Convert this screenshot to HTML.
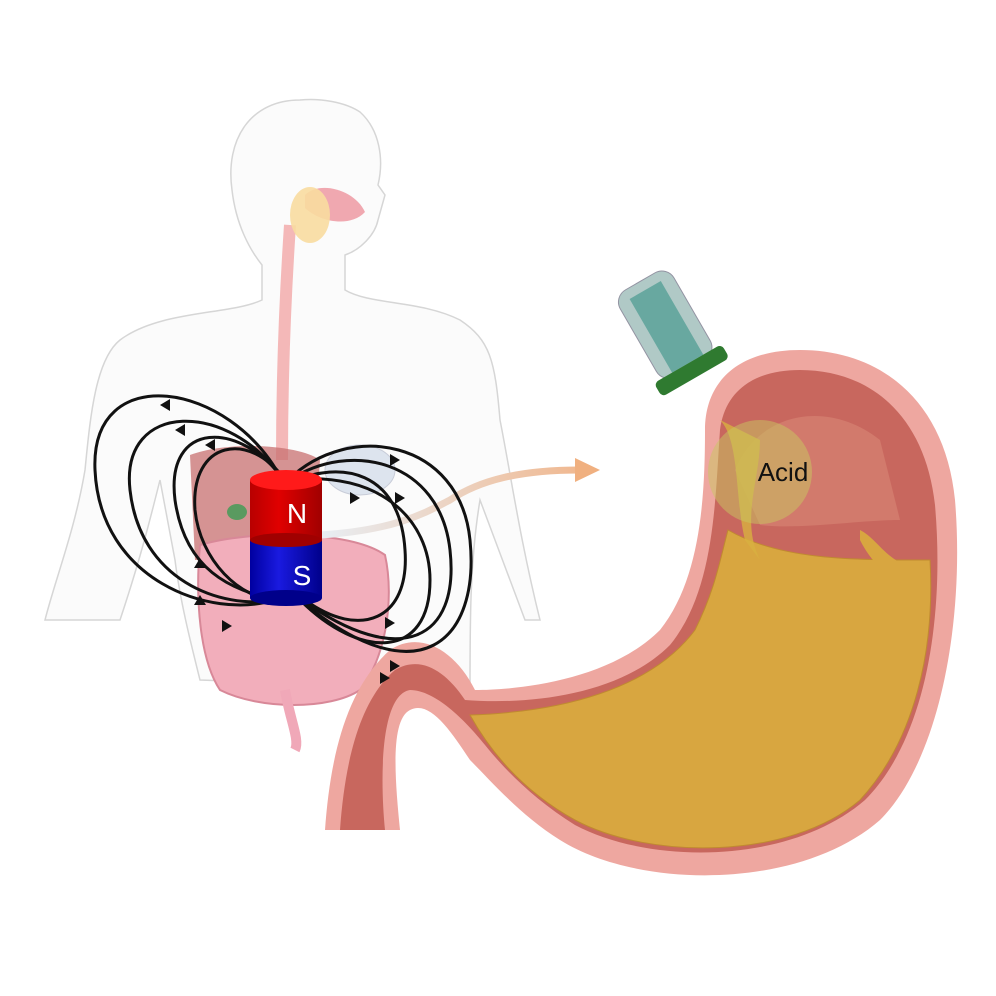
<!DOCTYPE html>
<html><head><style>
html,body{margin:0;padding:0;background:#fff}
svg{display:block}
</style></head><body>
<svg width="996" height="996" viewBox="0 0 996 996" xmlns="http://www.w3.org/2000/svg">
<defs>
<linearGradient id="red" x1="0" x2="1"><stop offset="0" stop-color="#b80000"/><stop offset=".4" stop-color="#e00000"/><stop offset="1" stop-color="#a00000"/></linearGradient>
<linearGradient id="blue" x1="0" x2="1"><stop offset="0" stop-color="#0000a0"/><stop offset=".4" stop-color="#1a1ae0"/><stop offset="1" stop-color="#00008a"/></linearGradient>
<linearGradient id="arr" x1="0" x2="1"><stop offset="0" stop-color="#e8eef4"/><stop offset="1" stop-color="#f0b890"/></linearGradient>
</defs>
<!-- human silhouette -->
<g fill="#fbfbfb" stroke="#d6d6d6" stroke-width="1.5">
<path d="M300,100 C250,100 225,140 232,190 C236,225 250,250 262,265 L262,300 C230,315 160,310 120,340 C95,360 90,420 85,470 C75,530 55,580 45,620 L120,620 C140,560 150,520 160,480 L175,560 C180,600 190,640 200,680 L470,690 C470,620 470,560 480,500 C495,540 510,580 525,620 L540,620 C520,540 510,470 500,420 C495,360 490,340 460,320 C420,300 370,305 345,290 L345,255 C360,250 375,235 378,220 L385,195 L378,185 C384,160 380,130 360,112 C345,102 320,98 300,100Z"/>
</g>
<!-- esophagus -->
<path d="M290,225 C285,300 282,380 282,460" stroke="#f4b8b8" stroke-width="12" fill="none"/>
<path d="M305,195 C320,180 355,190 365,212 C350,228 320,222 305,208Z" fill="#f0a8b0"/>
<ellipse cx="310" cy="215" rx="20" ry="28" fill="#f8dca0" opacity=".9"/>
<!-- organs -->
<path d="M190,455 C230,440 300,445 320,460 L315,530 C280,540 220,560 195,560Z" fill="#c87070" opacity=".75"/>
<ellipse cx="360" cy="470" rx="35" ry="25" fill="#dde4ee" stroke="#c8ccd8"/>
<ellipse cx="237" cy="512" rx="10" ry="8" fill="#5a9a60"/>
<path d="M200,545 C250,530 350,530 385,555 C395,600 385,660 360,690 C330,710 260,710 220,690 C200,660 195,600 200,545Z" fill="#f2aebb" stroke="#d88898" stroke-width="2"/>
<path d="M285,690 C290,720 300,740 295,750" stroke="#f0a8b8" stroke-width="10" fill="none"/>
<!-- stomach -->
<path d="M325,830 C330,760 345,690 390,650 C420,630 455,650 475,690 C520,690 610,680 660,630 C700,580 705,500 705,430 C705,380 740,350 800,350 C880,350 945,400 955,500 C965,620 940,760 880,820 C800,890 640,890 560,840 C520,815 490,780 470,760 C450,730 430,700 410,710 C390,720 395,780 400,830Z" fill="#eea7a0"/>
<path d="M340,830 C345,760 360,700 395,670 C420,655 445,670 465,700 C530,705 620,695 670,645 C715,590 715,500 720,430 C725,390 755,370 800,370 C870,370 925,415 935,505 C945,620 925,740 865,800 C790,865 650,865 575,825 C535,800 505,770 485,745 C465,720 435,690 410,690 C380,695 380,780 385,830Z" fill="#c8675e"/>
<path d="M470,715 C560,712 650,690 695,630 C715,590 720,560 728,530 C780,560 850,560 930,560 C935,650 915,740 860,800 C790,860 650,860 575,820 C530,795 495,760 470,715Z" fill="#d8a640" stroke="#c08a30"/>
<path d="M735,470 C760,410 830,400 880,440 L900,520 C860,520 800,530 760,525Z" fill="#d27a6c"/>
<path d="M720,420 C740,440 735,500 745,540 L760,560 C740,520 760,480 760,440Z" fill="#d8b040" opacity=".8"/>
<path d="M860,530 C880,540 890,570 930,570 L925,590 C890,585 870,560 860,540Z" fill="#d8a640"/>
<circle cx="760" cy="472" r="52" fill="#c8c860" opacity=".5"/>
<text x="783" y="481" font-family="Liberation Sans, sans-serif" font-size="26" text-anchor="middle" fill="#111">Acid</text>
<!-- capsule -->
<g transform="rotate(-30 670 345)">
<rect x="645" y="275" width="62" height="100" rx="14" fill="#a8c4c0" stroke="#889" opacity=".9"/>
<rect x="658" y="285" width="36" height="85" fill="#4a9a90" opacity=".7"/>
<rect x="637" y="370" width="78" height="16" rx="5" fill="#2f7a30"/>
</g>
<!-- arrow -->
<path d="M320,535 C400,530 430,510 450,500 C480,480 520,470 580,470" stroke="url(#arr)" stroke-width="7" fill="none"/>
<path d="M575,458 L600,470 L575,482Z" fill="#f0b080"/>
<!-- field lines -->
<g stroke="#111" stroke-width="3" fill="none">
<path d="M282,480 C230,380 90,360 95,470 C100,580 210,620 275,600"/>
<path d="M283,480 C230,400 120,400 130,490 C140,580 220,610 276,600"/>
<path d="M284,480 C240,420 165,420 175,500 C185,570 230,590 277,600"/>
<path d="M285,480 C250,430 190,440 195,510 C200,560 240,600 278,600"/>
<path d="M288,480 C350,420 460,440 470,540 C480,640 420,700 300,600"/>
<path d="M290,480 C350,440 440,460 450,550 C460,640 400,670 302,600"/>
<path d="M292,482 C340,460 400,470 405,550 C410,620 360,640 305,600"/>
<path d="M290,480 C380,470 430,520 430,580 C430,660 360,660 300,600"/>
</g>
<g fill="#111">
<path d="M160,405 l10,-6 0,12z"/><path d="M175,430 l10,-6 0,12z"/><path d="M205,445 l10,-6 0,12z"/>
<path d="M400,460 l-10,-6 0,12z"/><path d="M405,498 l-10,-6 0,12z"/><path d="M360,498 l-10,-6 0,12z"/>
<path d="M200,558 l6,10 -12,0z"/><path d="M200,595 l6,10 -12,0z"/><path d="M222,620 l10,6 -10,6z"/>
<path d="M390,660 l10,6 -10,6z"/><path d="M380,672 l10,6 -10,6z"/><path d="M385,617 l10,6 -10,6z"/>
</g>
<!-- magnet -->
<rect x="250" y="540" width="72" height="58" fill="url(#blue)"/>
<ellipse cx="286" cy="598" rx="36" ry="8" fill="#00008a"/>
<rect x="250" y="480" width="72" height="60" fill="url(#red)"/>
<ellipse cx="286" cy="540" rx="36" ry="7" fill="#a00000"/>
<ellipse cx="286" cy="480" rx="36" ry="10" fill="#ff1a1a"/>
<text x="297" y="523" font-family="Liberation Sans, sans-serif" font-size="28" fill="#fff" text-anchor="middle">N</text>
<text x="302" y="585" font-family="Liberation Sans, sans-serif" font-size="28" fill="#fff" text-anchor="middle">S</text>
</svg>
</body></html>
